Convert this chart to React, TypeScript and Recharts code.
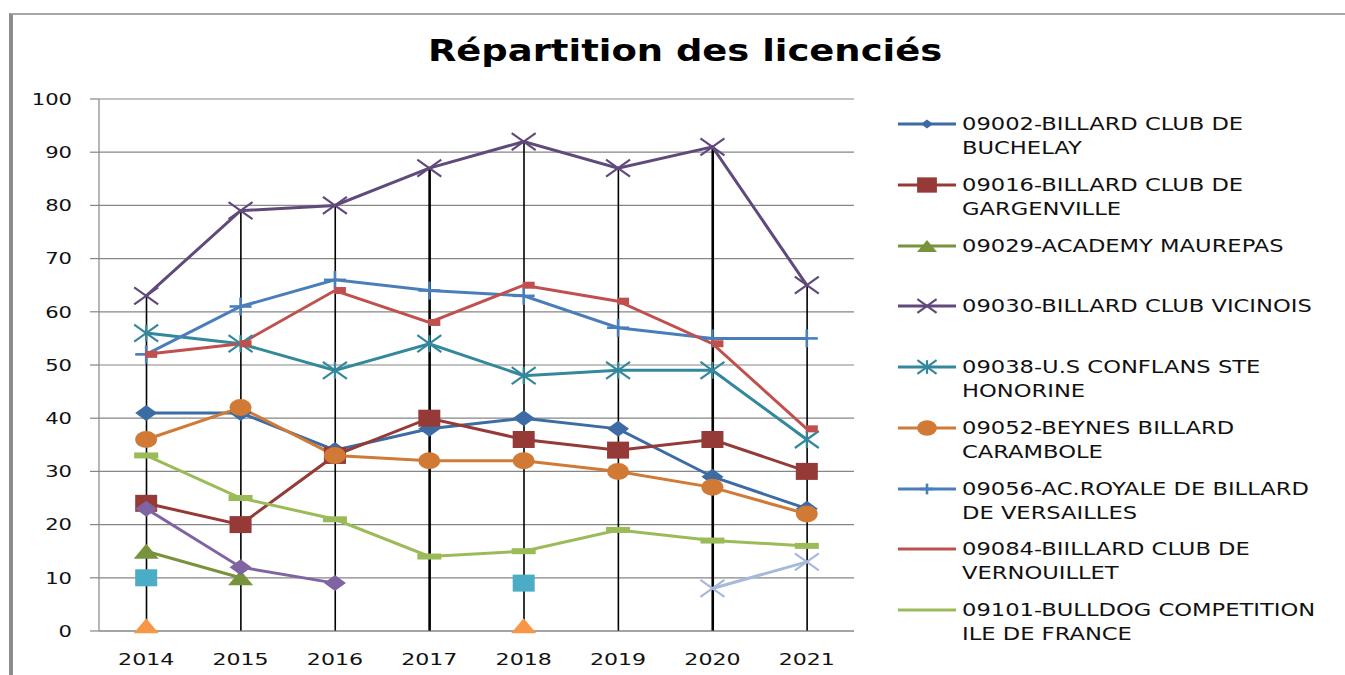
import React from "react";
import {
  ComposedChart,
  Line,
  Bar,
  XAxis,
  YAxis,
  CartesianGrid,
  Legend,
} from "recharts";

// values
const years = ["2014", "2015", "2016", "2017", "2018", "2019", "2020", "2021"];
const buchelay = [41, 41, 34, 38, 40, 38, 29, 23];
const gargenville = [24, 20, 33, 40, 36, 34, 36, 30];
const maurepas = [15, 10, null, null, null, null, null, null];
const vicinois = [63, 79, 80, 87, 92, 87, 91, 65];
const conflans = [56, 54, 49, 54, 48, 49, 49, 36];
const beynes = [36, 42, 33, 32, 32, 30, 27, 22];
const versailles = [52, 61, 66, 64, 63, 57, 55, 55];
const vernouillet = [52, 54, 64, 58, 65, 62, 54, 38];
const bulldog = [33, 25, 21, 14, 15, 19, 17, 16];
// series without legend entry (legend is cut in the original)
const extraSquare = [10, null, null, null, 9, null, null, null];
const extraTriangle = [1, null, null, null, 1, null, null, null];
const extraDiamond = [23, 12, 9, null, null, null, null, null];
const extraCross = [null, null, null, null, null, null, 8, 13];

const yTicks = [0, 10, 20, 30, 40, 50, 60, 70, 80, 90, 100];

const data = years.map((year, i) => ({
  year,
  buchelay: buchelay[i],
  gargenville: gargenville[i],
  maurepas: maurepas[i],
  vicinois: vicinois[i],
  conflans: conflans[i],
  beynes: beynes[i],
  versailles: versailles[i],
  vernouillet: vernouillet[i],
  bulldog: bulldog[i],
  extraSquare: extraSquare[i],
  extraTriangle: extraTriangle[i],
  extraDiamond: extraDiamond[i],
  extraCross: extraCross[i],
}));

type MarkerKind =
  | "diamond"
  | "square"
  | "triangle"
  | "x"
  | "asterisk"
  | "circle"
  | "plus"
  | "dash"
  | "longdash"
  | "none";

interface SeriesDef {
  key: string;
  lines: string[];
  color: string;
  marker: MarkerKind;
  showLine: boolean;
  inLegend: boolean;
}

const series: SeriesDef[] = [
  { key: "buchelay", lines: ["09002-BILLARD CLUB DE", "BUCHELAY"], color: "#3d6ba3", marker: "diamond", showLine: true, inLegend: true },
  { key: "gargenville", lines: ["09016-BILLARD CLUB DE", "GARGENVILLE"], color: "#953a37", marker: "square", showLine: true, inLegend: true },
  { key: "maurepas", lines: ["09029-ACADEMY MAUREPAS"], color: "#77933c", marker: "triangle", showLine: true, inLegend: true },
  { key: "vicinois", lines: ["09030-BILLARD CLUB VICINOIS"], color: "#604a7b", marker: "x", showLine: true, inLegend: true },
  { key: "conflans", lines: ["09038-U.S CONFLANS STE", "HONORINE"], color: "#33889c", marker: "asterisk", showLine: true, inLegend: true },
  { key: "beynes", lines: ["09052-BEYNES BILLARD", "CARAMBOLE"], color: "#d07a36", marker: "circle", showLine: true, inLegend: true },
  { key: "versailles", lines: ["09056-AC.ROYALE DE BILLARD", "DE VERSAILLES"], color: "#4a7ebb", marker: "plus", showLine: true, inLegend: true },
  { key: "vernouillet", lines: ["09084-BIILLARD CLUB DE", "VERNOUILLET"], color: "#c0504d", marker: "dash", showLine: true, inLegend: true },
  { key: "bulldog", lines: ["09101-BULLDOG COMPETITION", "ILE DE FRANCE"], color: "#9bbb59", marker: "longdash", showLine: true, inLegend: true },
  { key: "extraSquare", lines: [], color: "#4bacc6", marker: "square", showLine: false, inLegend: false },
  { key: "extraTriangle", lines: [], color: "#f79646", marker: "triangle", showLine: false, inLegend: false },
  { key: "extraDiamond", lines: [], color: "#8064a2", marker: "diamond", showLine: true, inLegend: false },
  { key: "extraCross", lines: [], color: "#a7b9da", marker: "x", showLine: true, inLegend: false },
];

const thickDropYears = ["2017", "2020"];
const FONT = "'DejaVu Sans', sans-serif";

function drawMarker(kind: MarkerKind, cx: number, cy: number, color: string, s = 1) {
  switch (kind) {
    case "diamond": {
      const w = 11 * s, h = 8 * s;
      return <polygon points={`${cx - w},${cy} ${cx},${cy - h} ${cx + w},${cy} ${cx},${cy + h}`} fill={color} />;
    }
    case "square":
      return <rect x={cx - 11 * s} y={cy - 8.5 * s} width={22 * s} height={17 * s} fill={color} />;
    case "triangle": {
      const w = 12.5 * s, h = 7.5 * s;
      return <polygon points={`${cx - w},${cy + h} ${cx},${cy - h} ${cx + w},${cy + h}`} fill={color} />;
    }
    case "x":
    case "asterisk": {
      const w = 12 * s, h = 8.5 * s;
      return (
        <g stroke={color} strokeWidth={2.2} fill="none">
          <line x1={cx - w} y1={cy - h} x2={cx + w} y2={cy + h} />
          <line x1={cx - w} y1={cy + h} x2={cx + w} y2={cy - h} />
          {kind === "asterisk" && <line x1={cx} y1={cy - h} x2={cx} y2={cy + h} />}
        </g>
      );
    }
    case "circle":
      return <ellipse cx={cx} cy={cy} rx={11 * s} ry={8.5 * s} fill={color} />;
    case "plus":
      return (
        <g stroke={color} strokeWidth={2.6}>
          <line x1={cx - 11 * s} y1={cy} x2={cx + 11 * s} y2={cy} />
          <line x1={cx} y1={cy - 9 * s} x2={cx} y2={cy + 9 * s} />
        </g>
      );
    case "dash":
      return <rect x={cx - 1} y={cy - 3.5} width={12} height={7} fill={color} />;
    case "longdash":
      return <rect x={cx - 12} y={cy - 3} width={24} height={6} fill={color} />;
    default:
      return null;
  }
}

const makeDot = (kind: MarkerKind, color: string) => (props: any) => {
  const { cx, cy, value, index } = props;
  if (value == null || cy == null || cx == null) return <g key={`d-${index}`} />;
  return <g key={`d-${index}`}>{drawMarker(kind, cx, cy, color)}</g>;
};

const DropLine = (props: any) => {
  const { x, y, width, height, payload } = props;
  if (height == null || isNaN(height)) return <g />;
  const cx = x + width / 2;
  const w = thickDropYears.includes(payload.year) ? 2.6 : 1.6;
  return <line x1={cx} x2={cx} y1={y} y2={y + height} stroke="#000" strokeWidth={w} />;
};

const YTick = ({ x, y, payload }: any) => (
  <g transform={`translate(${x},${y})`}>
    <text transform="scale(1.32,1)" textAnchor="end" dy="0.36em" fontSize={16} fontFamily={FONT} fill="#111">
      {payload.value}
    </text>
  </g>
);

const XTick = ({ x, y, payload }: any) => (
  <g transform={`translate(${x},${y})`}>
    <text transform="scale(1.38,1)" textAnchor="middle" dy="0.71em" fontSize={16} fontFamily={FONT} fill="#111">
      {payload.value}
    </text>
  </g>
);

const legendLegendMarkerScale: Record<string, number> = {
  diamond: 0.55,
  square: 0.9,
  triangle: 0.8,
  x: 0.8,
  asterisk: 0.8,
  circle: 0.9,
  plus: 0.6,
};

const renderLegend = () => (
  <div style={{ position: "relative", width: 1345, height: 675, pointerEvents: "none" }}>
    {series
      .filter((s) => s.inLegend)
      .map((s, i) => {
        const top = 112 + 60.75 * i;
        return (
          <div key={s.key} style={{ position: "absolute", left: 0, top, width: 1345 }}>
            <svg width={62} height={24} style={{ position: "absolute", left: 897, top: 0 }}>
              <line x1={1} x2={59} y1={12} y2={12} stroke={s.color} strokeWidth={3} />
              {s.marker !== "dash" && s.marker !== "longdash" &&
                drawMarker(s.marker, 30, 12, s.color, legendLegendMarkerScale[s.marker] ?? 1)}
            </svg>
            <div
              style={{
                position: "absolute",
                left: 962,
                top: 0,
                fontFamily: FONT,
                fontSize: 17,
                lineHeight: "24px",
                color: "#111",
                whiteSpace: "nowrap",
                transform: "scaleX(1.33)",
                transformOrigin: "left",
              }}
            >
              {s.lines.map((l) => (
                <div key={l}>{l}</div>
              ))}
            </div>
          </div>
        );
      })}
  </div>
);

export default function App() {
  return (
    <div style={{ position: "absolute", left: 0, top: 0, width: 1345, height: 675, background: "#fff", overflow: "hidden" }}>
      <div
        style={{
          position: "absolute",
          left: 9,
          top: 13,
          width: 1345,
          height: 675,
          borderLeft: "4px solid #8c8c8c",
          borderTop: "2px solid #a6a6a6",
        }}
      />
      <div
        style={{
          position: "absolute",
          left: 25,
          top: 33,
          width: 1320,
          textAlign: "center",
          fontFamily: FONT,
          fontWeight: "bold",
          fontSize: 30,
          lineHeight: "36px",
          color: "#000",
        }}
      >
        <span style={{ display: "inline-block", transform: "scaleX(1.23)" }}>Répartition des licenciés</span>
      </div>
      <ComposedChart
        width={1345}
        height={675}
        data={data}
        margin={{ top: 99, right: 491, bottom: 14, left: 39 }}
        style={{ position: "absolute", left: 0, top: 0 }}
      >
        <CartesianGrid vertical={false} stroke="#868686" strokeWidth={1.2} />
        <XAxis
          dataKey="year"
          height={30}
          tickLine={false}
          tickSize={0}
          tickMargin={23}
          axisLine={{ stroke: "#868686", strokeWidth: 1.2 }}
          tick={<XTick />}
          interval={0}
        />
        <YAxis
          width={60}
          domain={[0, 100]}
          ticks={yTicks}
          interval={0}
          tickSize={9}
          tickMargin={18}
          tickLine={{ stroke: "#868686", strokeWidth: 1.2 }}
          axisLine={{ stroke: "#868686", strokeWidth: 1.2 }}
          tick={<YTick />}
        />
        <Legend
          content={renderLegend}
          layout="horizontal"
          verticalAlign="middle"
          align="center"
          wrapperStyle={{ position: "absolute", left: 0, top: 0, width: 1345, height: 675, margin: 0 }}
        />
        {series.map((s) => (
          <Line
            key={s.key}
            type="linear"
            dataKey={s.key}
            stroke={s.showLine ? s.color : "none"}
            strokeWidth={3}
            dot={makeDot(s.marker, s.color)}
            activeDot={false}
            connectNulls={false}
            isAnimationActive={false}
            legendType="none"
          />
        ))}
        <Bar dataKey="vicinois" barSize={3} shape={DropLine} isAnimationActive={false} legendType="none" />
      </ComposedChart>
    </div>
  );
}
